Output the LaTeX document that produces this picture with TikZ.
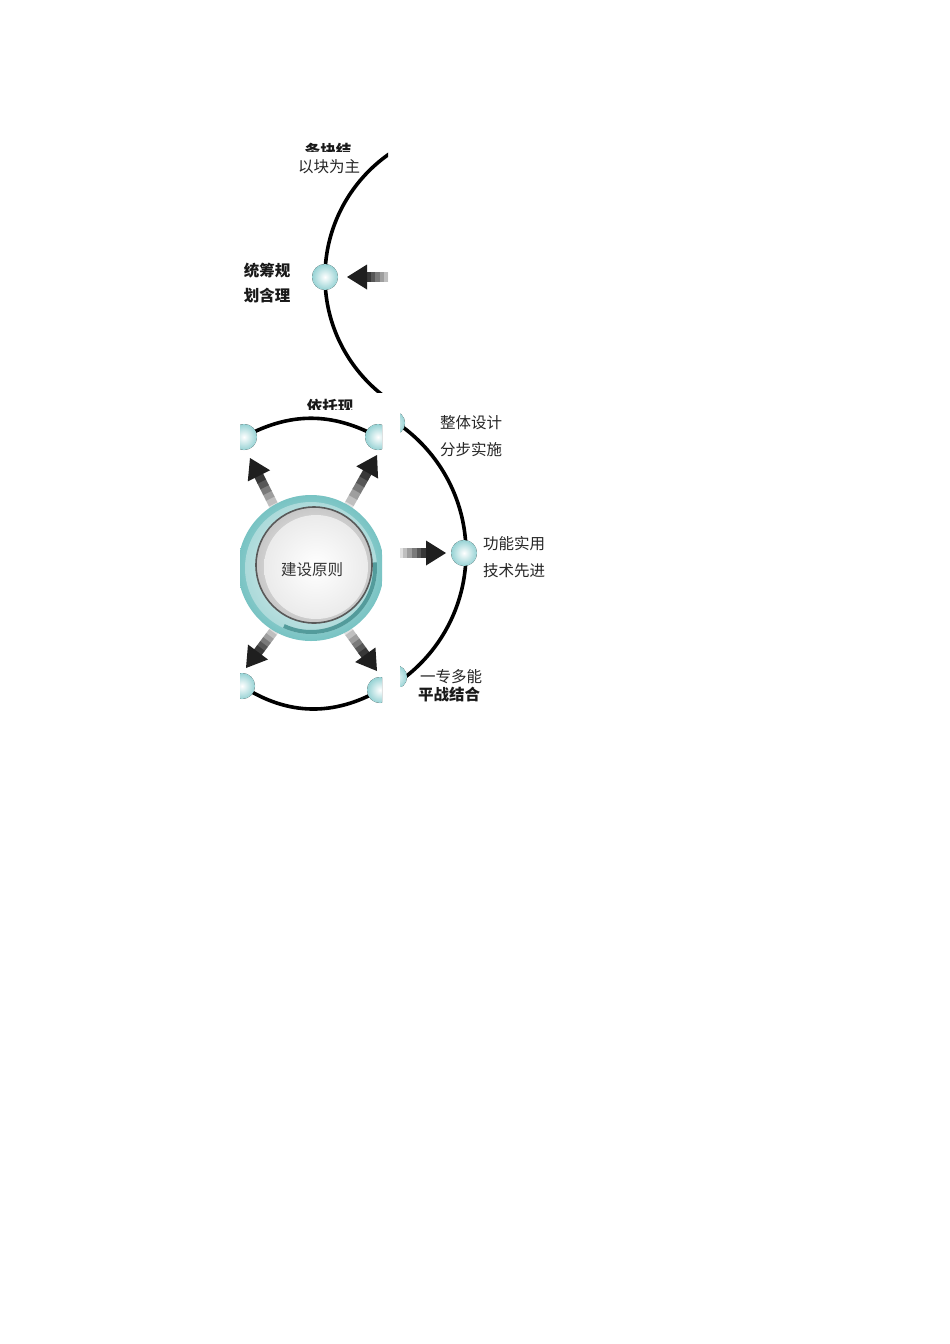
\documentclass[tikz,border=0pt]{standalone}
\usepackage{fontspec}
\newfontfamily\cjk{Noto Sans CJK SC}
\usetikzlibrary{calc}
\definecolor{balledge}{RGB}{150,210,212}
\definecolor{ringteal}{RGB}{120,195,195}
\definecolor{darkteal}{RGB}{40,130,130}
\tikzset{
  ballst/.style={shade, inner color=white, outer color=balledge},
  arcst/.style={line width=3.6pt, black, line cap=round},
  lbl/.style={font=\cjk\fontsize{15.5}{17}\selectfont, text=black!85, inner sep=0pt},
  lblb/.style={font=\cjk\bfseries\fontsize{15.5}{17}\selectfont, text=black!90, inner sep=0pt},
}
% gradient arrow: #1 tail coordinate, #2 tip coordinate
\newcommand{\grarr}[2]{%
  \coordinate (gbase) at ($(#2)!20pt!(#1)$);
  \foreach \i/\c in {0/12,1/25,2/38,3/52,4/66,5/78}{
    \draw[line width=9.5pt, black!\c] ($(#1)!{\i/6}!(gbase)$) -- ($(#1)!{(\i+1)/6+0.02}!(gbase)$);
  }
  \fill[black!88] (#2) -- ($(gbase)!12.5pt!90:(#2)$) -- ($(gbase)!12.5pt!-90:(#2)$) -- cycle;
}
\begin{document}
\begin{tikzpicture}[x=1pt,y=-1pt]
\useasboundingbox (0,0) rectangle (950,1344);
\fill[white] (0,0) rectangle (950,1344);

% ---------- top fragment ----------
\begin{scope}
  \clip (230,152) rectangle (388,392);
  \draw[arcst] (475,277) circle[radius=150];
  \fill[ballst] (325,277) circle[radius=13];
  \coordinate (t1tail) at (392,277);
  \coordinate (t1tip) at (347,277);
  \grarr{t1tail}{t1tip}
\end{scope}
\begin{scope}
  \clip (280,130) rectangle (380,151);
  \node[lblb] (tclip) at (328,151) {条块结};
\end{scope}
\node[lbl] (t2) at (329,167) {以块为主};
\node[lblb] (t3) at (267,271) {统筹规};
\node[lblb] (t4) at (267,296) {划含理};
\begin{scope}
  \clip (280,390) rectangle (380,409);
  \node[lblb] (bclip) at (330,407) {依托现};
\end{scope}

% ---------- lower left fragment ----------
\begin{scope}
  \clip (240,415) rectangle (382,712);
  \draw[arcst] (244,437) .. controls (290,412) and (332,412) .. (378,437);
  \draw[arcst] (242,686) .. controls (288,716) and (334,716) .. (380,690);
  \fill[ballst] (244,437) circle[radius=13];
  \fill[ballst] (378,437) circle[radius=13];
  \fill[ballst] (242,686) circle[radius=13];
  \fill[ballst] (380,690) circle[radius=13];
  \coordinate (a1t) at (276,510); \coordinate (a1h) at (250,458);
  \coordinate (a2t) at (346,510); \coordinate (a2h) at (377,455);
  \coordinate (a3t) at (276,628); \coordinate (a3h) at (246,668);
  \coordinate (a4t) at (346,628); \coordinate (a4h) at (377,671);
  \grarr{a1t}{a1h}
  \grarr{a2t}{a2h}
  \grarr{a3t}{a3h}
  \grarr{a4t}{a4h}
  % central circle
  \shade[inner color=ringteal!30, outer color=ringteal] (311,568) circle[radius=73];
  \fill[white, opacity=0.35] (311,568) circle[radius=66];
  \draw[darkteal!80, line width=4pt] (311,568) ++(-5:64) arc[start angle=-5, end angle=115, radius=64];
  \shade[inner color=white, outer color=black!22] (314,565) circle[radius=58];
  \draw[black!65, line width=1.6pt] (314,565) circle[radius=58];
  \shade[inner color=white, outer color=black!8] (316,567) circle[radius=52];
  \node[lbl, text=black!80] (core) at (312,570) {建设原则};
\end{scope}

% ---------- right fragment ----------
\begin{scope}
  \clip (400,413) rectangle (548,686);
  \draw[arcst] (309,553) circle[radius=157];
  \fill[ballst] (393,423) circle[radius=12];
  \fill[ballst] (395,677) circle[radius=12];
  \fill[ballst] (464,553) circle[radius=13];
  \coordinate (r1t) at (398,553); \coordinate (r1h) at (446,553);
  \grarr{r1t}{r1h}
  \node[lbl, anchor=west] (r3) at (483,544) {功能实用};
  \node[lbl, anchor=west] (r4) at (483,571) {技术先进};
\end{scope}
\node[lbl, anchor=west] (r1) at (440,423) {整体设计};
\node[lbl, anchor=west] (r2) at (440,450) {分步实施};
\node[lbl, anchor=west] (r5) at (420,677) {一专多能};
\node[lblb, anchor=west] (r6) at (418,695) {平战结合};
\end{tikzpicture}
\end{document}
